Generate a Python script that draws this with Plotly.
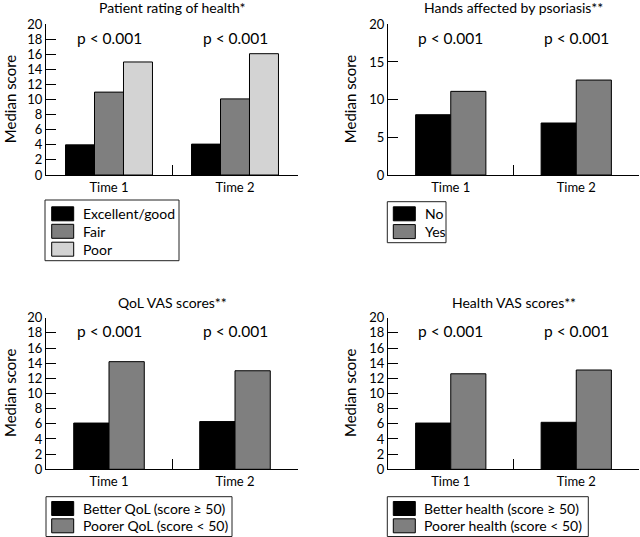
import plotly.graph_objects as go

W, H = 640, 537
FONT = "Lato"

times = ["Time 1", "Time 2"]

# Panel 1: Patient rating of health*
p1_title = "Patient rating of health*"
p1_names = ["Excellent/good", "Fair", "Poor"]
p1_excellent = [4.0, 4.1]
p1_fair = [11.0, 10.1]
p1_poor = [15.0, 16.1]

# Panel 2: Hands affected by psoriasis**
p2_title = "Hands affected by psoriasis**"
p2_names = ["No", "Yes"]
p2_no = [8.0, 6.9]
p2_yes = [11.1, 12.6]

# Panel 3: QoL VAS scores**
p3_title = "QoL VAS scores**"
p3_names = ["Better QoL (score \u2265 50)", "Poorer QoL (score < 50)"]
p3_better = [6.1, 6.3]
p3_poorer = [14.2, 13.0]

# Panel 4: Health VAS scores**
p4_title = "Health VAS scores**"
p4_names = ["Better health (score \u2265 50)", "Poorer health (score < 50)"]
p4_better = [6.1, 6.2]
p4_poorer = [12.6, 13.1]

p_label = "p < 0.001"
y_title = "Median score"

BLACK = "#000000"
MID = "#7f7f7f"
LIGHT = "#d3d3d3"


def px(x):
    return x / W


def py(y):
    return 1 - y / H


# plot areas in pixels: (x0, x1, ytop, ybottom)
areas = {
    1: (46, 298, 24.3, 175),
    2: (388, 639, 24.3, 175),
    3: (46, 298, 317.7, 469.3),
    4: (388, 639, 317.7, 469.3),
}

fig = go.Figure()

panels = [
    (1, p1_names, [p1_excellent, p1_fair, p1_poor], [BLACK, MID, LIGHT], 0.23, 2),
    (2, p2_names, [p2_no, p2_yes], [BLACK, MID], 0.28, 5),
    (3, p3_names, [p3_better, p3_poorer], [BLACK, MID], 0.28, 2),
    (4, p4_names, [p4_better, p4_poorer], [BLACK, MID], 0.28, 2),
]

for idx, names, series, colors, bw, dt in panels:
    sfx = "" if idx == 1 else str(idx)
    n = len(series)
    start = -bw * n / 2
    for i, (nm, vals, col) in enumerate(zip(names, series, colors)):
        fig.add_trace(go.Bar(
            x=times, y=vals, name=nm,
            xaxis="x" + sfx, yaxis="y" + sfx,
            width=bw, offset=start + i * bw,
            marker=dict(color=col, line=dict(color="#000000", width=1)),
            showlegend=False,
        ))
    x0, x1, yt, yb = areas[idx]
    fig.layout["xaxis" + sfx] = dict(
        domain=[px(x0), px(x1)], anchor="y" + sfx, type="category",
        range=[-0.5, 1.5], tickson="boundaries", ticks="inside", ticklen=10,
        tickcolor="#000000", showline=True, linecolor="#000000", linewidth=1,
        showgrid=False, zeroline=False, fixedrange=True, automargin=False,
        tickfont=dict(family=FONT, size=13, color="#000000"),
    )
    fig.layout["yaxis" + sfx] = dict(
        domain=[py(yb), py(yt)], anchor="x" + sfx, range=[0, 20], dtick=dt,
        ticks="inside", ticklen=10, tickcolor="#000000", showline=True,
        linecolor="#000000", linewidth=1, showgrid=False, zeroline=False,
        automargin=False, fixedrange=True,
        tickfont=dict(family=FONT, size=13, color="#000000"),
    )

annotations = []
shapes = []

titles = {1: p1_title, 2: p2_title, 3: p3_title, 4: p4_title}
title_y = {1: 7, 2: 7, 3: 302, 4: 302}
ytitle_x = {1: 9.5, 2: 349.5, 3: 9.5, 4: 349.5}

for idx in range(1, 5):
    sfx = "" if idx == 1 else str(idx)
    x0, x1, yt, yb = areas[idx]
    annotations.append(dict(
        text=titles[idx], xref="paper", yref="paper",
        x=px((x0 + x1) / 2), y=py(title_y[idx]), xanchor="center", yanchor="middle",
        showarrow=False, font=dict(family=FONT, size=14, color="#000000"),
    ))
    annotations.append(dict(
        text=y_title, xref="paper", yref="paper", textangle=-90,
        x=px(ytitle_x[idx]), y=py((yt + yb) / 2), xanchor="center", yanchor="middle",
        showarrow=False, font=dict(family=FONT, size=15, color="#000000"),
    ))
    for t in times:
        annotations.append(dict(
            text=p_label, xref="x" + sfx, yref="y" + sfx, x=t, y=18.2,
            xanchor="center", yanchor="middle", showarrow=False,
            font=dict(family=FONT, size=15.5, color="#000000"),
        ))

# manual legends (box, swatches, labels) in pixel positions
legends = [
    (p1_names, [BLACK, MID, LIGHT], (45, 179, 200, 260.7), 51.7, 80.7, [213.8, 231.3, 249.2]),
    (p2_names, [BLACK, MID], (387.3, 446, 201.7, 242.7), 393.3, 422.7, [213.8, 231.6]),
    (p3_names, [BLACK, MID], (46, 232, 496.7, 536.5), 51.7, 80.7, [508.5, 525.8]),
    (p4_names, [BLACK, MID], (387.3, 588.3, 496.7, 536.5), 393.3, 421.7, [508.5, 525.8]),
]
for names, cols, (bx0, bx1, by0, by1), sx, tx, rows in legends:
    shapes.append(dict(type="rect", xref="paper", yref="paper",
                       x0=px(bx0), x1=px(bx1), y0=py(by1), y1=py(by0),
                       line=dict(color="#222222", width=1), fillcolor="rgba(0,0,0,0)"))
    for nm, c, ry in zip(names, cols, rows):
        shapes.append(dict(type="rect", xref="paper", yref="paper",
                           x0=px(sx), x1=px(sx + 22), y0=py(ry + 7), y1=py(ry - 7),
                           line=dict(color="#000000", width=1), fillcolor=c))
        annotations.append(dict(
            text=nm, xref="paper", yref="paper", x=px(tx), y=py(ry),
            xanchor="left", yanchor="middle", showarrow=False,
            font=dict(family=FONT, size=14, color="#000000"),
        ))

fig.update_layout(
    template="none",
    width=W, height=H, margin=dict(l=0, r=0, t=0, b=0, pad=0), autosize=False,
    paper_bgcolor="white", plot_bgcolor="white",
    barmode="overlay", showlegend=False,
    annotations=annotations, shapes=shapes,
    font=dict(family=FONT, color="#000000"),
)

fig.write_html(
    "out.html",
    config={"displayModeBar": False, "responsive": False},
    post_script="document.body.style.margin='0';document.body.style.padding='0';"
                "document.body.style.overflow='hidden';",
)
